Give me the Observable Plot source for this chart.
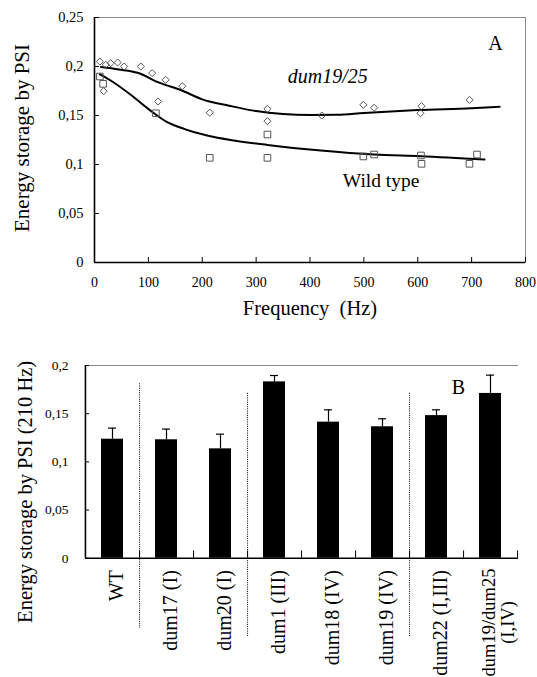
<!DOCTYPE html>
<html><head><meta charset="utf-8">
<script src="https://cdn.jsdelivr.net/npm/d3@7"></script>
<script src="https://cdn.jsdelivr.net/npm/@observablehq/plot@0.6"></script>
<style>
body{margin:0;background:#fff;}
#wrap{position:relative;width:537px;height:677px;overflow:hidden;background:#fff;font-family:"Liberation Serif",serif;}
#a,#b{position:absolute;left:0;}
#a{top:0;} #b{top:330px;}
svg text{font-family:"Liberation Serif",serif;}
</style></head>
<body><div id="wrap"><div id="a"></div><div id="b"></div></div>
<script>
// Panel A: dum19/25 measured points (diamonds)
const mutFreq = [10, 21, 30, 43, 55, 86, 107, 118, 132, 163, 17, 214, 321, 321, 422, 499, 519, 607, 605, 696];
const mutVal  = [0.205, 0.2017, 0.2034, 0.2041, 0.200, 0.200, 0.1932, 0.1643, 0.1864, 0.1799, 0.1748, 0.1528, 0.1568, 0.1442, 0.150, 0.1609, 0.1579, 0.1595, 0.1523, 0.166];
// Panel A: wild type measured points (squares)
const wtFreq = [10, 16, 114, 214, 321, 321, 499, 519, 606, 607, 696, 710];
const wtVal  = [0.1898, 0.1823, 0.1523, 0.1068, 0.1306, 0.1068, 0.1082, 0.1102, 0.1092, 0.1007, 0.1007, 0.1102];
// Panel A: fitted curves
const mutCurveFreq = [12, 45, 80, 120, 160, 200, 250, 300, 350, 400, 450, 500, 600, 700, 752];
const mutCurveVal  = [0.1995, 0.197, 0.1936, 0.1835, 0.176, 0.1665, 0.160, 0.1545, 0.1515, 0.1505, 0.1507, 0.1525, 0.1555, 0.1575, 0.159];
const wtCurveFreq = [10, 30, 73, 104, 135, 166, 209, 259, 321, 420, 519, 606, 724];
const wtCurveVal  = [0.192, 0.1857, 0.1687, 0.155, 0.1432, 0.1364, 0.1296, 0.1245, 0.1200, 0.1143, 0.1102, 0.1085, 0.1051];
const xTicksA = [0, 100, 200, 300, 400, 500, 600, 700, 800];
const yTicksA = [0, 0.05, 0.1, 0.15, 0.2, 0.25];

// Panel B
const strains = ["WT", "dum17 (I)", "dum20 (I)", "dum1 (III)", "dum18 (IV)", "dum19 (IV)", "dum22 (I,III)", "dum19/dum25 (I,IV)"];
const strainLabels = ["WT", "dum17 (I)", "dum20 (I)", "dum1 (III)", "dum18 (IV)", "dum19 (IV)", "dum22 (I,III)", "dum19/dum25\n(I,IV)"];
const storage    = [0.1235, 0.1229, 0.1135, 0.183, 0.1412, 0.1364, 0.148, 0.171];
const storageErr = [0.135, 0.134, 0.1287, 0.1896, 0.154, 0.1447, 0.154, 0.190];
const groupEnds = ["WT", "dum20 (I)", "dum19 (IV)"];
const yTicksB = [0, 0.05, 0.1, 0.15, 0.2];

const fmt = d => String(d).replace(".", ",");
const serif = "Liberation Serif";
const W = 537;

const A = Plot.plot({
  width: W, height: 330,
  marginLeft: 94, marginRight: 12, marginTop: 17, marginBottom: 68,
  style: {fontFamily: serif, background: "white", color: "black", overflow: "visible"},
  x: {domain: [0, 800]},
  y: {domain: [0, 0.25]},
  marks: [
    Plot.frame({stroke: "#8a8a8a"}),
    Plot.ruleX([0], {stroke: "black", strokeWidth: 1.6}),
    Plot.ruleY([0], {stroke: "black", strokeWidth: 1.6}),
    Plot.axisY(yTicksA, {tickSize: -5, tickPadding: 16, tickFormat: fmt, fontSize: 14.5, fontFamily: serif, label: null}),
    Plot.axisX(xTicksA, {tickSize: -5, tickPadding: 20, fontSize: 14, fontFamily: serif, label: null}),
    Plot.line(mutCurveFreq, {x: d => d, y: (d, i) => mutCurveVal[i], curve: "monotone-x", stroke: "black", strokeWidth: 2}),
    Plot.line(wtCurveFreq, {x: d => d, y: (d, i) => wtCurveVal[i], curve: "monotone-x", stroke: "black", strokeWidth: 2}),
    Plot.dot(mutFreq, {x: d => d, y: (d, i) => mutVal[i], symbol: "diamond2", r: 3.2, stroke: "#555", strokeWidth: 1, fill: "none"}),
    Plot.dot(wtFreq, {x: d => d, y: (d, i) => wtVal[i], symbol: "square2", r: 4.2, stroke: "#555", strokeWidth: 1, fill: "none"}),
    Plot.text(["A"], {frameAnchor: "top-right", dx: -30, dy: 26, textAnchor: "middle", lineAnchor: "middle", fontSize: 20, fontFamily: serif}),
    Plot.text(["dum19/25"], {x: 433, y: 0.190, textAnchor: "middle", lineAnchor: "middle", fontSize: 20, fontStyle: "italic", fontFamily: serif}),
    Plot.text(["Wild type"], {x: 532, y: 0.0835, textAnchor: "middle", lineAnchor: "middle", fontSize: 19.5, fontFamily: serif}),
    Plot.text(["Frequency\u00a0 (Hz)"], {frameAnchor: "bottom", dy: 46, textAnchor: "middle", lineAnchor: "middle", fontSize: 20.5, fontFamily: serif}),
    Plot.text(["Energy storage by PSI"], {frameAnchor: "left", dx: -72, dy: -2, rotate: -90, textAnchor: "middle", lineAnchor: "middle", fontSize: 21, fontFamily: serif})
  ]
});
document.getElementById("a").appendChild(A);

const mL = 85, mR = 19;
const step = (W - mL - mR) / strains.length;
const B = Plot.plot({
  width: W, height: 347,
  marginLeft: mL, marginRight: mR, marginTop: 35, marginBottom: 119.3,
  style: {fontFamily: serif, background: "white", color: "black", overflow: "visible"},
  x: {type: "band", domain: strains, paddingInner: 0.59, paddingOuter: 0.295, axis: null},
  y: {domain: [0, 0.2]},
  marks: [
    Plot.ruleY([0.2], {stroke: "#8a8a8a"}),
    Plot.barY(strains, {x: d => d, y: (d, i) => storage[i], fill: "black"}),
    Plot.ruleX(strains, {x: d => d, y1: (d, i) => storage[i], y2: (d, i) => storageErr[i], stroke: "black", strokeWidth: 1.2}),
    Plot.tickY(strains, {x: d => d, y: (d, i) => storageErr[i], insetLeft: 7, insetRight: 7, stroke: "black", strokeWidth: 1.2}),
    Plot.ruleX(groupEnds, {x: d => d, dx: step / 2, y1: (d, i) => i === 0 ? 0.181 : 0.171, y2: (d, i) => i === 0 ? -0.073 : -0.082, stroke: "black", strokeWidth: 1, strokeDasharray: "1,1.2"}),
    Plot.ruleX(strains, {x: d => d, dx: step / 2, y1: 0, y2: 0.0075, stroke: "black", strokeWidth: 1}),
    Plot.ruleY([0], {stroke: "black", strokeWidth: 1.6}),
    Plot.ruleX([strains[0]], {x: d => d, dx: -step / 2, y1: 0, y2: 0.2, stroke: "black", strokeWidth: 1.6}),
    Plot.axisY(yTicksB, {tickSize: -4, tickPadding: 21, tickFormat: fmt, fontSize: 13.5, fontFamily: serif, label: null}),
    Plot.text(strains, {filter: (d, i) => i < 7, x: d => d, text: (d, i) => strainLabels[i], frameAnchor: "bottom", dx: 4, dy: 12, rotate: -90, textAnchor: "end", lineAnchor: "middle", fontSize: 20, fontFamily: serif}),
    Plot.text(strains, {filter: (d, i) => i === 7, x: d => d, text: (d, i) => strainLabels[i], frameAnchor: "bottom", dx: 8, dy: 64.3, rotate: -90, textAnchor: "middle", lineAnchor: "middle", fontSize: 18.5, fontFamily: serif}),
    Plot.text(["B"], {frameAnchor: "top-right", dx: -60, dy: 22, textAnchor: "middle", lineAnchor: "middle", fontSize: 20, fontFamily: serif}),
    Plot.text(["Energy storage by PSI (210 Hz)"], {frameAnchor: "left", dx: -60, dy: 30, rotate: -90, textAnchor: "middle", lineAnchor: "middle", fontSize: 20.5, fontFamily: serif})
  ]
});
document.getElementById("b").appendChild(B);
</script>
</body></html>
